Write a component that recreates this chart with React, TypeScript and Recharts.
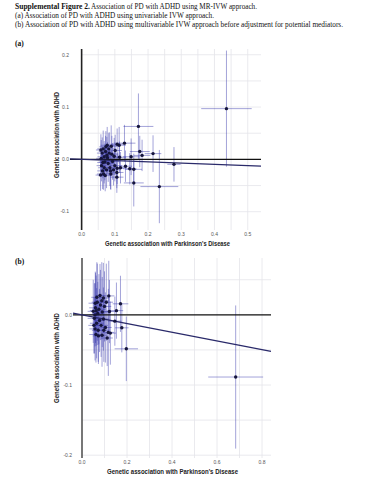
import React from 'react'
import { ScatterChart, Scatter, XAxis, YAxis, ErrorBar, ReferenceLine } from 'recharts'

// (a) univariable IVW: beta for PD (x), beta for ADHD (y), and their standard errors
const pdA = [
  0.436, 0.171, 0.129, 0.234, 0.278, 0.157, 0.215, 0.175, 0.182, 0.149, 0.157, 0.145, 0.132,
  0.117, 0.107, 0.106, 0.106, 0.113, 0.107, 0.089, 0.077, 0.101, 0.091, 0.114, 0.058, 0.062,
  0.065, 0.068, 0.07, 0.072, 0.06, 0.057, 0.063, 0.066, 0.075, 0.078, 0.08, 0.083, 0.085,
  0.088, 0.093, 0.096, 0.098, 0.073, 0.068, 0.059, 0.064, 0.076, 0.082, 0.071, 0.087, 0.1,
]
const adhdA = [
  0.097, 0.063, 0.031, -0.052, -0.0095, -0.045, 0.011, 0.015, 0.0076, 0.005, -0.019, -0.018,
  -0.013, -0.016, -0.017, -0.025, -0.034, 0.027, 0.029, 0.025, 0.027, 0.017, 0.01, 0.004, 0.018,
  0.012, 0.02, 0.005, -0.005, 0.015, -0.012, -0.03, -0.022, -0.028, -0.02, 0.003, -0.008, 0.012,
  -0.016, -0.028, -0.004, -0.02, 0.006, 0.024, -0.016, 0.002, -0.006, 0.008, 0.02, -0.031,
  -0.022, -0.012,
]
const pdSeA = [
  0.076, 0.045, 0.033, 0.057, 0.02, 0.03, 0.025, 0.03, 0.025, 0.025, 0.025, 0.02, 0.02, 0.02,
  0.02, 0.02, 0.02, 0.02, 0.02, 0.02, 0.02, 0.02, 0.02, 0.02, 0.015, 0.016, 0.018, 0.02, 0.018,
  0.02, 0.015, 0.015, 0.016, 0.02, 0.02, 0.022, 0.02, 0.02, 0.022, 0.02, 0.02, 0.02, 0.022, 0.02,
  0.018, 0.015, 0.017, 0.02, 0.02, 0.02, 0.02, 0.022,
]
const adhdSeA = [
  0.111, 0.063, 0.035, 0.07, 0.033, 0.045, 0.035, 0.03, 0.03, 0.035, 0.03, 0.03, 0.03, 0.03,
  0.03, 0.03, 0.03, 0.035, 0.03, 0.04, 0.035, 0.03, 0.035, 0.03, 0.03, 0.03, 0.035, 0.03, 0.035,
  0.03, 0.03, 0.03, 0.035, 0.03, 0.035, 0.03, 0.035, 0.04, 0.035, 0.03, 0.035, 0.03, 0.035,
  0.03, 0.03, 0.035, 0.03, 0.035, 0.03, 0.03, 0.035, 0.03,
]

// (b) multivariable IVW
const pdB = [
  0.683, 0.197, 0.171, 0.153, 0.177, 0.146, 0.122, 0.126, 0.117, 0.112, 0.089, 0.08, 0.119,
  0.095, 0.059, 0.05, 0.055, 0.06, 0.065, 0.07, 0.058, 0.062, 0.068, 0.072, 0.075, 0.078, 0.082,
  0.085, 0.09, 0.095, 0.1, 0.104, 0.066, 0.053, 0.073, 0.088, 0.108, 0.058, 0.063, 0.097,
]
const adhdB = [
  -0.0886, -0.0484, 0.0157, 0.006, -0.0185, -0.009, 0.0047, -0.026, -0.025, -0.033, -0.029,
  0.0275, 0.027, 0.024, 0.0166, 0.005, -0.005, 0.01, -0.012, 0.002, -0.02, -0.028, 0.018, -0.022,
  0.008, -0.008, 0.014, -0.015, 0.004, -0.006, 0.012, -0.018, 0.025, -0.015, -0.03, 0.02, 0.018,
  0.0, 0.006, -0.022,
]
const pdSeB = [
  0.122, 0.052, 0.035, 0.03, 0.03, 0.03, 0.03, 0.025, 0.025, 0.025, 0.025, 0.02, 0.025, 0.025,
  0.03, 0.025, 0.03, 0.028, 0.03, 0.025, 0.025, 0.03, 0.025, 0.028, 0.03, 0.025, 0.025, 0.03,
  0.028, 0.025, 0.03, 0.028, 0.025, 0.025, 0.025, 0.03, 0.03, 0.025, 0.028, 0.025,
]
const adhdSeB = [
  0.102, 0.046, 0.04, 0.04, 0.035, 0.035, 0.045, 0.045, 0.062, 0.04, 0.045, 0.045, 0.05, 0.05,
  0.045, 0.045, 0.05, 0.05, 0.05, 0.045, 0.045, 0.04, 0.055, 0.045, 0.05, 0.045, 0.05, 0.045,
  0.05, 0.045, 0.05, 0.05, 0.05, 0.04, 0.04, 0.055, 0.055, 0.045, 0.05, 0.045,
]

// IVW fit lines, end points
const fitA = [{ x: -0.035, y: 0.0009 }, { x: 0.54, y: -0.0128 }]
const fitB = [{ x: -0.04, y: 0.0025 }, { x: 0.84, y: -0.052 }]

const xTicksA = [0, 0.1, 0.2, 0.3, 0.4, 0.5]
const yTicksA = [-0.1, 0, 0.1, 0.2]
const gridXA = [0.05, 0.1, 0.15, 0.2, 0.25, 0.3, 0.35, 0.4, 0.45, 0.5]
const gridYA = [-0.1, -0.05, 0.05, 0.1, 0.15, 0.2]

const xTicksB = [0, 0.2, 0.4, 0.6, 0.8]
const yTicksB = [-0.2, -0.1, 0]
const gridXB = [0.1, 0.2, 0.3, 0.4, 0.5, 0.6, 0.7, 0.8]
const gridYB = [-0.2, -0.15, -0.1, -0.05, 0.05]

const build = (xs: number[], ys: number[], exs: number[], eys: number[]) =>
  xs.map((x, i) => ({ x, y: ys[i], ex: exs[i], ey: eys[i] }))

const ERR = 'rgba(50,50,170,0.45)'
const GRID = '#e4e4ea'
const tickStyle = { fontSize: 5, fill: '#555', fontFamily: 'Liberation Sans' }

const Dot = (p: any) => <circle cx={p.cx} cy={p.cy} r={1.7} fill="#16163c" />

interface PanelProps {
  data: { x: number; y: number; ex: number; ey: number }[]
  fit: { x: number; y: number }[]
  xDomain: [number, number]
  yDomain: [number, number]
  xTicks: number[]
  yTicks: number[]
  gridX: number[]
  gridY: number[]
  width: number
  height: number
  top: number
  margin: { top: number; right: number; bottom: number; left: number }
  yAxisWidth: number
  axisColor: string
}

function Panel(props: PanelProps) {
  const { data, fit, xDomain, yDomain, xTicks, yTicks, gridX, gridY } = props
  return (
    <div style={{ position: 'absolute', left: 0, top: props.top }}>
      <ScatterChart width={props.width} height={props.height} margin={props.margin}>
        <XAxis
          type="number"
          dataKey="x"
          domain={xDomain}
          ticks={xTicks}
          interval={0}
          allowDataOverflow
          tickFormatter={(v: number) => v.toFixed(1)}
          tick={tickStyle}
          tickLine={false}
          axisLine={false}
          tickSize={0}
          tickMargin={2}
          height={14}
        />
        <YAxis
          type="number"
          dataKey="y"
          domain={yDomain}
          ticks={yTicks}
          interval={0}
          allowDataOverflow
          tickFormatter={(v: number) => v.toFixed(1)}
          tick={tickStyle}
          tickLine={false}
          axisLine={false}
          tickSize={0}
          tickMargin={1}
          width={props.yAxisWidth}
        />
        {gridX.map((g) => (
          <ReferenceLine key={'gx' + g} x={g} stroke={GRID} strokeWidth={0.8} />
        ))}
        {gridY.map((g) => (
          <ReferenceLine
            key={'gy' + g}
            segment={[{ x: 0, y: g }, { x: xDomain[1], y: g }]}
            stroke={GRID}
            strokeWidth={0.8}
          />
        ))}
        <Scatter data={data} shape={Dot} isAnimationActive={false}>
          <ErrorBar dataKey="ex" direction="x" width={0} stroke={ERR} strokeWidth={1} />
          <ErrorBar dataKey="ey" direction="y" width={0} stroke={ERR} strokeWidth={1} />
        </Scatter>
        <ReferenceLine x={0} stroke={props.axisColor} strokeWidth={1.6} />
        <ReferenceLine y={0} stroke="#111" strokeWidth={1.4} />
        <ReferenceLine segment={fit} stroke="#2a2a6a" strokeWidth={1.3} />
      </ScatterChart>
    </div>
  )
}

export default function App() {
  const dataA = build(pdA, adhdA, pdSeA, adhdSeA)
  const dataB = build(pdB, adhdB, pdSeB, adhdSeB)
  const serif = 'Liberation Serif'
  const sans = 'Liberation Sans'
  return (
    <div style={{ position: 'relative', width: 387, height: 480, background: '#fff' }}>
      <style>{'body{margin:0}'}</style>
      <Panel
        data={dataA}
        fit={fitA}
        xDomain={[-0.035, 0.54]}
        yDomain={[-0.135, 0.211]}
        xTicks={xTicksA}
        yTicks={yTicksA}
        gridX={gridXA}
        gridY={gridYA}
        width={280}
        height={215}
        top={40}
        margin={{ top: 9, right: 19, bottom: 11, left: 40 }}
        yAxisWidth={30}
        axisColor="#222"
      />
      <Panel
        data={dataB}
        fit={fitB}
        xDomain={[-0.04, 0.84]}
        yDomain={[-0.204, 0.081]}
        xTicks={xTicksB}
        yTicks={yTicksB}
        gridX={gridXB}
        gridY={gridYB}
        width={290}
        height={230}
        top={250}
        margin={{ top: 8, right: 19, bottom: 8, left: 40 }}
        yAxisWidth={33}
        axisColor="#555"
      />
      <svg
        width={387}
        height={480}
        style={{ position: 'absolute', left: 0, top: 0, pointerEvents: 'none' }}
      >
        <g fontFamily={serif} fontSize={7.5} fill="#111">
          <text x={15} y={8.7} fontWeight="bold" textLength={75} lengthAdjust="spacingAndGlyphs">
            Supplemental Figure 2.
          </text>
          <text x={91} y={8.7} textLength={166} lengthAdjust="spacingAndGlyphs">
            Association of PD with ADHD using MR-IVW approach.
          </text>
          <text x={15} y={17.6} textLength={199} lengthAdjust="spacingAndGlyphs">
            (a) Association of PD with ADHD using univariable IVW approach.
          </text>
          <text x={15} y={26.6} textLength={328} lengthAdjust="spacingAndGlyphs">
            (b) Association of PD with ADHD using multivariable IVW approach before adjustment for potential mediators.
          </text>
          <text x={15} y={45.5} fontWeight="bold">(a)</text>
          <text x={15} y={263.5} fontWeight="bold">(b)</text>
        </g>
        <g fontFamily={sans} fontSize={6.5} fontWeight="bold" fill="#222" textAnchor="middle">
          <text x={167.5} y={246.3} textLength={125} lengthAdjust="spacingAndGlyphs">
            Genetic association with Parkinson's Disease
          </text>
          <text x={172.5} y={474.3} textLength={131} lengthAdjust="spacingAndGlyphs">
            Genetic association with Parkinson's Disease
          </text>
          <text
            x={57}
            y={137.3}
            transform="rotate(-90 57 135)"
            textLength={86}
            lengthAdjust="spacingAndGlyphs"
          >
            Genetic association with ADHD
          </text>
          <text
            x={57}
            y={360.3}
            transform="rotate(-90 57 358)"
            textLength={90}
            lengthAdjust="spacingAndGlyphs"
          >
            Genetic association with ADHD
          </text>
        </g>
      </svg>
    </div>
  )
}
